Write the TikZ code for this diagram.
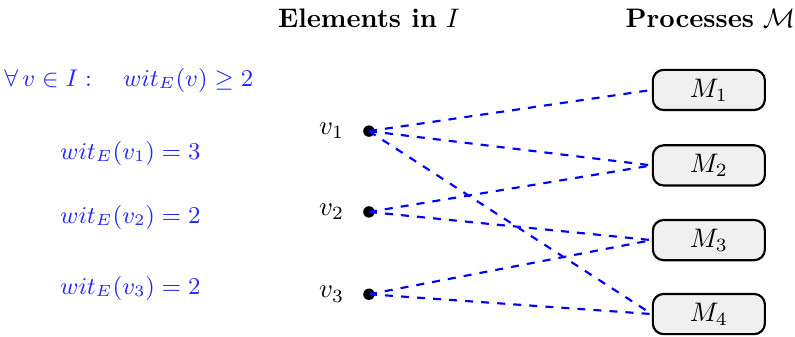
\documentclass[tikz,border=0pt]{standalone}
\usepackage{amsmath,amssymb}
\begin{document}
\begin{tikzpicture}[x=1cm,y=1cm,
  proc/.style={draw, thick, rectangle, rounded corners=4pt, fill=gray!12, minimum width=1.47cm, minimum height=0.52cm},
  elem/.style={circle, fill=black, inner sep=0pt, minimum size=0.15cm},
  link/.style={blue, dashed, thick},
  cond/.style={text=blue!85!white, font=\small}]
\useasboundingbox (0,0) rectangle (10.43,4.41);
% headers
\node (hel) at (4.84,4.17) {\textbf{Elements in} $I$};
\node (hpr) at (9.32,4.17) {\textbf{Processes} $\mathcal{M}$};
% conditions
\node[cond] (c0) at (1.69,3.36) {$\forall\, v \in I:\quad wit_E(v) \geq 2$};
\node[cond] (c1) at (1.71,2.40) {$wit_E(v_1) = 3$};
\node[cond] (c2) at (1.71,1.56) {$wit_E(v_2) = 2$};
\node[cond] (c3) at (1.71,0.63) {$wit_E(v_3) = 2$};
% elements
\node[elem, label={[label distance=0.12cm]left:$v_1$}] (v1) at (4.84,2.69) {};
\node[elem, label={[label distance=0.12cm]left:$v_2$}] (v2) at (4.84,1.63) {};
\node[elem, label={[label distance=0.12cm]left:$v_3$}] (v3) at (4.84,0.55) {};
% processes
\node[proc] (m1) at (9.30,3.23) {$M_1$};
\node[proc] (m2) at (9.30,2.24) {$M_2$};
\node[proc] (m3) at (9.30,1.26) {$M_3$};
\node[proc] (m4) at (9.30,0.29) {$M_4$};
% links
\draw[link] (v1.center) -- (m1.west);
\draw[link] (v1.center) -- (m2.west);
\draw[link] (v1.center) -- (m4.west);
\draw[link] (v2.center) -- (m2.west);
\draw[link] (v2.center) -- (m3.west);
\draw[link] (v3.center) -- (m3.west);
\draw[link] (v3.center) -- (m4.west);
\end{tikzpicture}
\end{document}
